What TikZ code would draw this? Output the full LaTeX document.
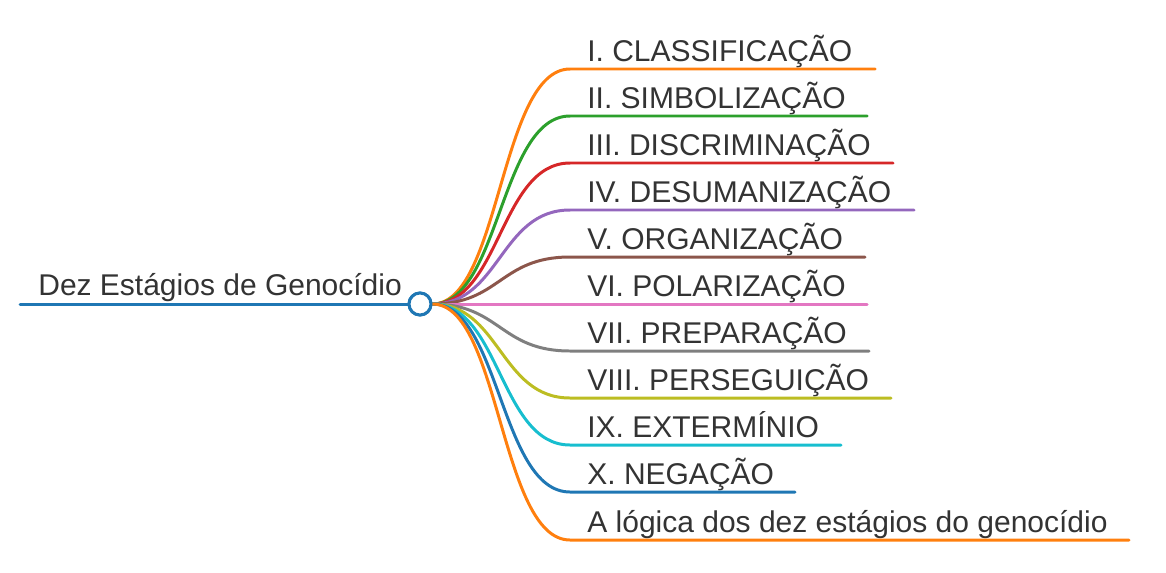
\documentclass[tikz,border=0pt]{standalone}
\usepackage{fontspec}
\setmainfont{Liberation Sans}
\definecolor{txtgray}{HTML}{333333}
\definecolor{cOrange}{HTML}{FF7F0E}
\definecolor{cGreen}{HTML}{2CA02C}
\definecolor{cRed}{HTML}{D62728}
\definecolor{cPurple}{HTML}{9467BD}
\definecolor{cBrown}{HTML}{8C564B}
\definecolor{cPink}{HTML}{E377C2}
\definecolor{cGray}{HTML}{7F7F7F}
\definecolor{cOlive}{HTML}{BCBD22}
\definecolor{cCyan}{HTML}{17BECF}
\definecolor{cBlue}{HTML}{1F77B4}
\tikzset{
  stagelabel/.style={anchor=base west, inner sep=0pt, text=txtgray,
    font=\fontsize{17.07}{20}\selectfont},
  branch/.style={line width=1.7pt, line cap=round},
  hubdot/.style={circle, draw=cBlue, line width=1.7pt, fill=white,
    minimum size=0.44cm, inner sep=0pt}
}
\begin{document}
\begin{tikzpicture}[x=0.02cm, y=-0.02cm]
  \useasboundingbox (0, 0) rectangle (1166, 572);
  % root
  \node[stagelabel] (root) at (38, 295) {Dez Estágios de Genocídio};
  \node[hubdot] (hub) at (420, 304) {};
  \coordinate (rootstart) at (20, 304);
  \draw[branch, cBlue] (rootstart) -- (hub.west);
  % stages
  \foreach \y/\xe/\col/\txt [count=\i] in {
      69/875/cOrange/I. CLASSIFICAÇÃO,
      116/867/cGreen/II. SIMBOLIZAÇÃO,
      163/893/cRed/III. DISCRIMINAÇÃO,
      210/914/cPurple/IV. DESUMANIZAÇÃO,
      257/865/cBrown/V. ORGANIZAÇÃO,
      304/867/cPink/VI. POLARIZAÇÃO,
      351/869/cGray/VII. PREPARAÇÃO,
      398/891/cOlive/VIII. PERSEGUIÇÃO,
      445/841/cCyan/IX. EXTERMÍNIO,
      492/795/cBlue/X. NEGAÇÃO,
      540/1129/cOrange/A lógica dos dez estágios do genocídio} {
    \coordinate (turn\i) at (570, \y);
    \coordinate (end\i) at (\xe, \y);
    \node[stagelabel] (stage\i) at (587, \y-8) {\txt};
    \draw[branch, \col] (hub.east) .. controls (500, 304) and (500, \y) .. (turn\i) -- (end\i);
  }
  \node[hubdot] at (hub) {};
\end{tikzpicture}
\end{document}
